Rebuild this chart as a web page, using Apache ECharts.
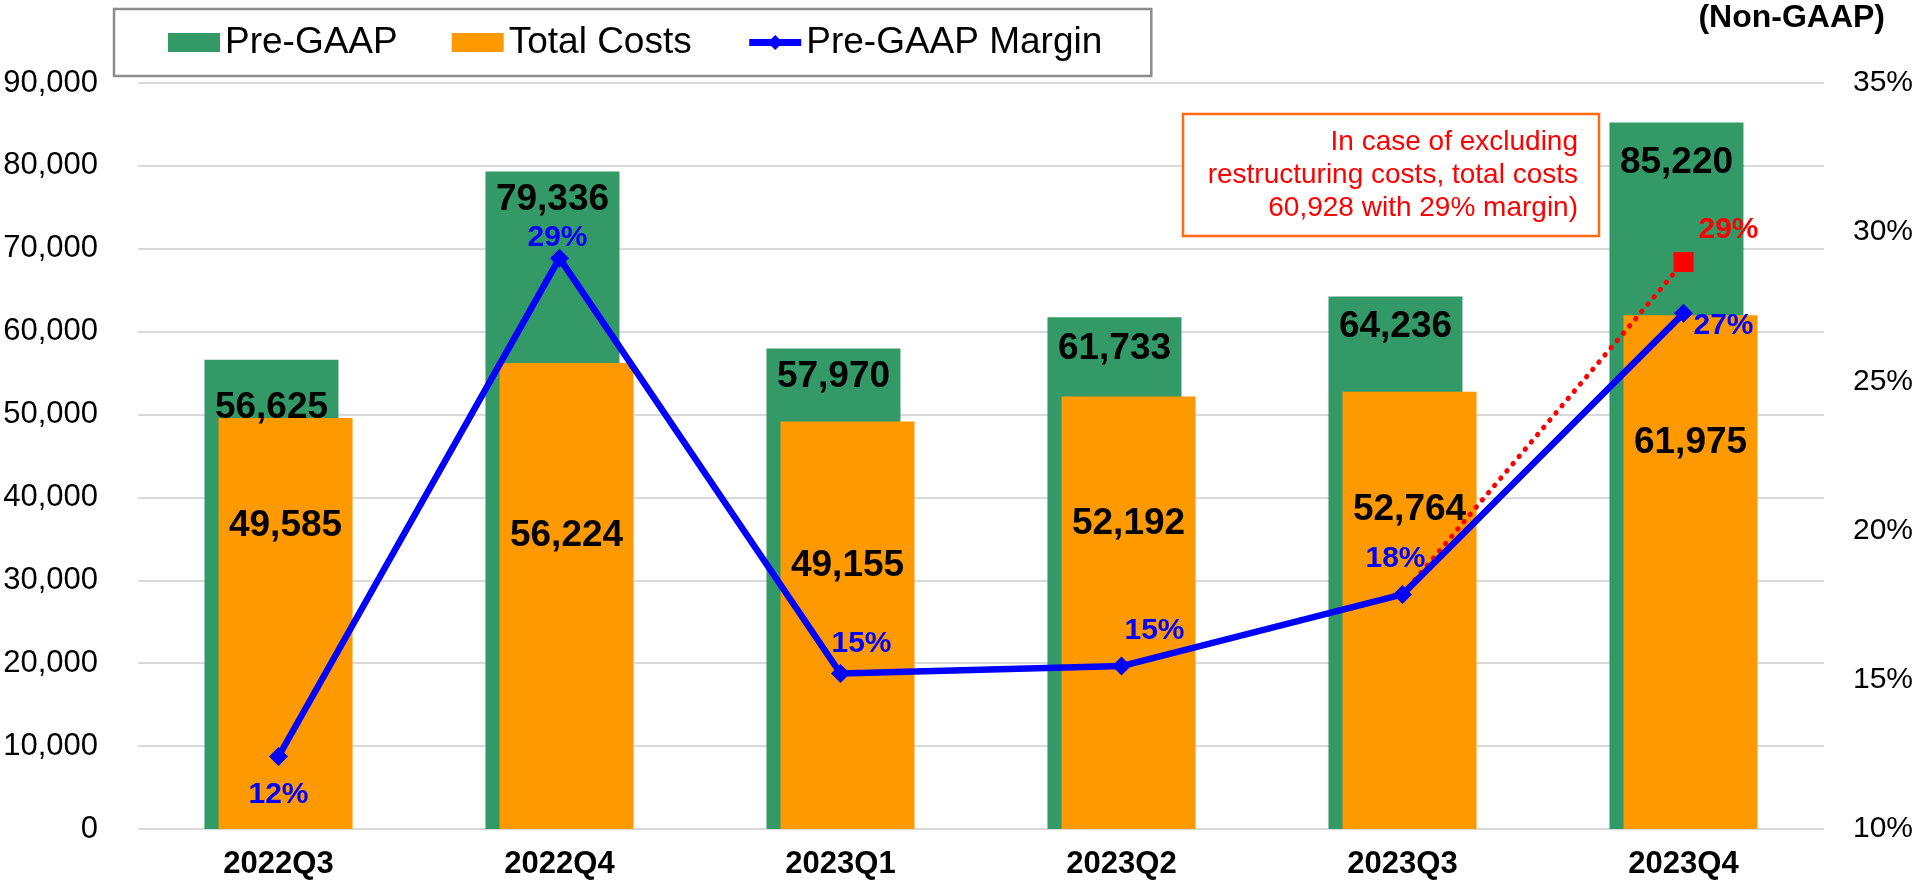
<!DOCTYPE html>
<html>
<head>
<meta charset="utf-8">
<script src="https://cdn.jsdelivr.net/npm/echarts@6/dist/echarts.min.js"></script>
<style>
  html, body { margin: 0; padding: 0; background: #fff; }
  #myChart { width: 1920px; height: 881px; }
</style>
</head>
<body>
<div id="myChart"></div>
<script>
// Datas
const quarters = ['2022Q3', '2022Q4', '2023Q1', '2023Q2', '2023Q3', '2023Q4']
const preGaap = [56625, 79336, 57970, 61733, 64236, 85220]
const totalCosts = [49585, 56224, 49155, 52192, 52764, 61975]
const margin = [12.43, 29.13, 15.21, 15.46, 17.86, 27.28]
// excluding restructuring costs (from 2023Q3 point to 2023Q4)
const adjMargin = [null, null, null, null, 17.86, 29.0]
const leftTicks = { min: 0, max: 90000, step: 10000 }
const rightTicks = { min: 10, max: 35, step: 5 }
const noteLines = ['In case of excluding', 'restructuring costs, total costs', '60,928 with 29% margin)']

const FONT = '"Liberation Sans", Arial, sans-serif'
const GREEN = '#339966'
const ORANGE = '#FF9900'
const BLUE = '#0000FF'
const RED = '#FF0000'

// label placement, copied by eye from the excel chart
const greenLabelDist = [28, 8, 8, 11, 10, 20]
const orangeLabelDist = [88, 153, 124, 107, 98, 108]
const marginLabelOffset = [[0, 38], [-2, -20], [21, -30], [33, -35], [-7, -36], [40, 12]]

const fmt = v => v.toLocaleString('en-US')

const chart = echarts.init(document.getElementById('myChart'))

const barLabel = {
  show: true,
  position: 'insideTop',
  fontSize: 37,
  fontWeight: 'bold',
  lineHeight: 40,
  color: '#000',
  fontFamily: FONT,
  formatter: p => fmt(p.value),
}

chart.setOption({
  animation: false,
  textStyle: { fontFamily: FONT },
  grid: { left: 138, right: 96, top: 83, bottom: 52 },
  legend: {
    data: [
      { name: 'Pre-GAAP', icon: 'rect' },
      { name: 'Total Costs', icon: 'rect' },
      { name: 'Pre-GAAP Margin' },
    ],
    left: 114,
    top: 9,
    padding: [15, 49, 15, 54],
    itemWidth: 52,
    itemHeight: 19,
    itemGap: 54,
    borderColor: '#8C8C8C',
    borderWidth: 2.5,
    lineStyle: { width: 7 },
    textStyle: { fontSize: 37, color: '#000', fontFamily: FONT },
  },
  xAxis: {
    type: 'category',
    data: quarters,
    axisLine: { show: false },
    axisTick: { show: false },
    axisLabel: { fontSize: 31, fontWeight: 'bold', color: '#000', margin: 20, fontFamily: FONT },
  },
  yAxis: [{
    type: 'value',
    min: leftTicks.min,
    max: leftTicks.max,
    interval: leftTicks.step,
    axisLine: { show: false },
    axisTick: { show: false },
    axisLabel: { fontSize: 31, color: '#000', margin: 40, fontFamily: FONT, formatter: v => fmt(v) },
    splitLine: { lineStyle: { color: '#D9D9D9', width: 2 } },
  },
  {
    type: 'value',
    min: rightTicks.min,
    max: rightTicks.max,
    interval: rightTicks.step,
    axisLine: { show: false },
    axisTick: { show: false },
    splitLine: { show: false },
    axisLabel: { fontSize: 30, color: '#000', margin: 29, fontFamily: FONT, formatter: '{value}%' },
  }],
  graphic: [
    {
      type: 'text',
      right: 35,
      top: 2,
      style: { text: '(Non-GAAP)', font: 'bold 32px ' + FONT, fill: '#000' },
    },
    {
      type: 'rect',
      shape: { x: 1183, y: 114, width: 416, height: 122 },
      style: { fill: '#fff', stroke: '#FF6A13', lineWidth: 2.5 },
      z: 10,
    },
    {
      type: 'text',
      x: 1578,
      y: 126,
      z: 11,
      style: {
        text: noteLines.join('\n'),
        font: '28px ' + FONT,
        fill: RED,
        align: 'right',
        verticalAlign: 'top',
        lineHeight: 33,
      },
    },
  ],
  series: [{
    name: 'Pre-GAAP',
    type: 'bar',
    barWidth: 134,
    barGap: '-89.5%',
    itemStyle: { color: GREEN },
    data: preGaap.map((v, i) => ({
      value: v,
      label: { distance: greenLabelDist[i] },
    })),
    label: barLabel,
  },
  {
    name: 'Total Costs',
    type: 'bar',
    barWidth: 134,
    barGap: '-89.5%',
    itemStyle: { color: ORANGE },
    data: totalCosts.map((v, i) => ({
      value: v,
      label: { distance: orangeLabelDist[i] },
    })),
    label: barLabel,
  },
  {
    name: 'Excl. restructuring',
    type: 'line',
    yAxisIndex: 1,
    connectNulls: false,
    lineStyle: { color: RED, width: 5, type: [0.5, 9], cap: 'round' },
    itemStyle: { color: RED },
    data: adjMargin.map((v, i) => ({
      value: v,
      symbol: i === adjMargin.length - 1 ? 'rect' : 'none',
      symbolSize: 20,
      label: {
        show: i === adjMargin.length - 1,
        position: 'inside',
        offset: [45, -32],
        color: RED,
        fontSize: 30,
        fontWeight: 'bold',
        fontFamily: FONT,
        formatter: p => Math.round(p.value) + '%',
      },
    })),
    z: 5,
  },
  {
    name: 'Pre-GAAP Margin',
    type: 'line',
    yAxisIndex: 1,
    symbol: 'diamond',
    symbolSize: 19,
    lineStyle: { color: BLUE, width: 6.5 },
    itemStyle: { color: BLUE },
    data: margin.map((v, i) => ({
      value: v,
      label: { offset: marginLabelOffset[i] },
    })),
    label: {
      show: true,
      position: 'inside',
      color: BLUE,
      fontSize: 30,
      fontWeight: 'bold',
      fontFamily: FONT,
      formatter: p => Math.round(p.value) + '%',
    },
    z: 6,
  }],
})
</script>
</body>
</html>
